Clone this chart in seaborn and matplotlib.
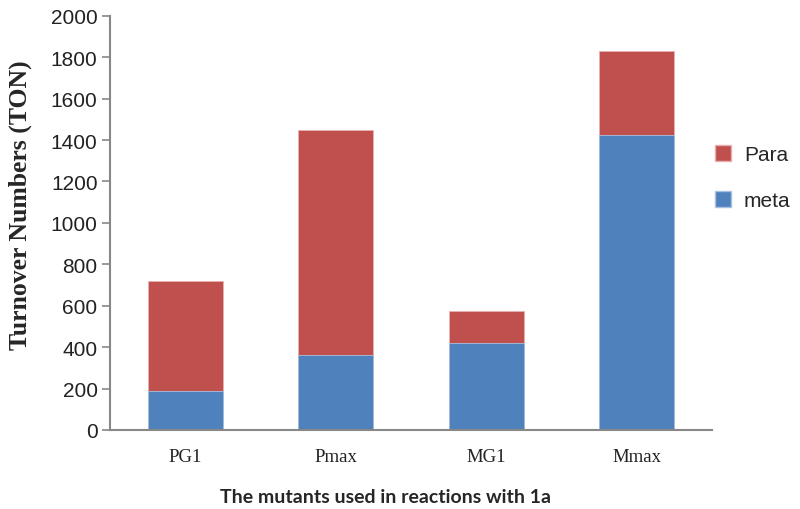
import matplotlib
matplotlib.use("Agg")
import matplotlib.pyplot as plt
import seaborn as sns
import pandas as pd
import numpy as np
from matplotlib.patches import Patch

categories = ["PG1", "Pmax", "MG1", "Mmax"]
meta = [190, 362, 420, 1425]
para = [530, 1088, 155, 405]
series_names = ["Para", "meta"]
yticks = [0, 200, 400, 600, 800, 1000, 1200, 1400, 1600, 1800, 2000]

red = "#C0504D"
blue = "#4F81BD"

sns.set_theme(style="white")
plt.rcParams["font.family"] = ["Liberation Sans", "DejaVu Sans"]

total = [m + p for m, p in zip(meta, para)]
df = pd.DataFrame({"cat": categories, "meta": meta, "total": total})

fig = plt.figure(figsize=(8, 5.1), dpi=100)
ax = fig.add_axes([0.1375, 0.155, 0.7525, 0.812])

sns.barplot(data=df, x="cat", y="total", color=red, saturation=1, width=0.5, ax=ax,
            edgecolor="#E8B0AE", linewidth=0.6)
sns.barplot(data=df, x="cat", y="meta", color=blue, saturation=1, width=0.5, ax=ax,
            edgecolor="#A9C1E0", linewidth=0.6)

ax.set_xlim(-0.5, 3.5)
ax.set_ylim(0, 2000)
ax.set_yticks(yticks)
ax.set_yticklabels([str(v) for v in yticks], fontsize=15, color="#222222")
ax.set_xticks(range(len(categories)))
ax.set_xticklabels(categories, fontsize=13.5, family=["Liberation Serif"], color="#222222")
ax.set_xticks(np.arange(-0.5, 4.0, 1.0), minor=True)
ax.tick_params(axis="x", which="major", length=0, pad=13)
ax.tick_params(axis="x", which="minor", length=6, width=1.2, color="#888888", direction="out")
ax.tick_params(axis="y", which="major", length=6, width=1.2, color="#888888", direction="out", left=True, pad=3)

for s in ["top", "right"]:
    ax.spines[s].set_visible(False)
for s in ["left", "bottom"]:
    ax.spines[s].set_color("#888888")
    ax.spines[s].set_linewidth(1.5)

ax.set_ylabel("Turnover Numbers (TON)", fontsize=18.5, fontweight="bold",
              family=["Liberation Serif"])
ax.yaxis.set_label_coords(-0.13, 0.545)
ax.set_xlabel("The mutants used in reactions with 1a", fontsize=14, fontweight="bold",
              family=["Lato"])
ax.xaxis.set_label_coords(0.458, -0.14)

handles = [Patch(facecolor=red, edgecolor="#E8B0AE"), Patch(facecolor=blue, edgecolor="#A9C1E0")]
leg = fig.legend(handles, series_names, loc="center left", bbox_to_anchor=(0.87, 0.65),
                 frameon=False, fontsize=15, handlelength=0.8, handleheight=0.8,
                 labelspacing=1.3, handletextpad=0.6)

fig.savefig("out.png", dpi=100)
